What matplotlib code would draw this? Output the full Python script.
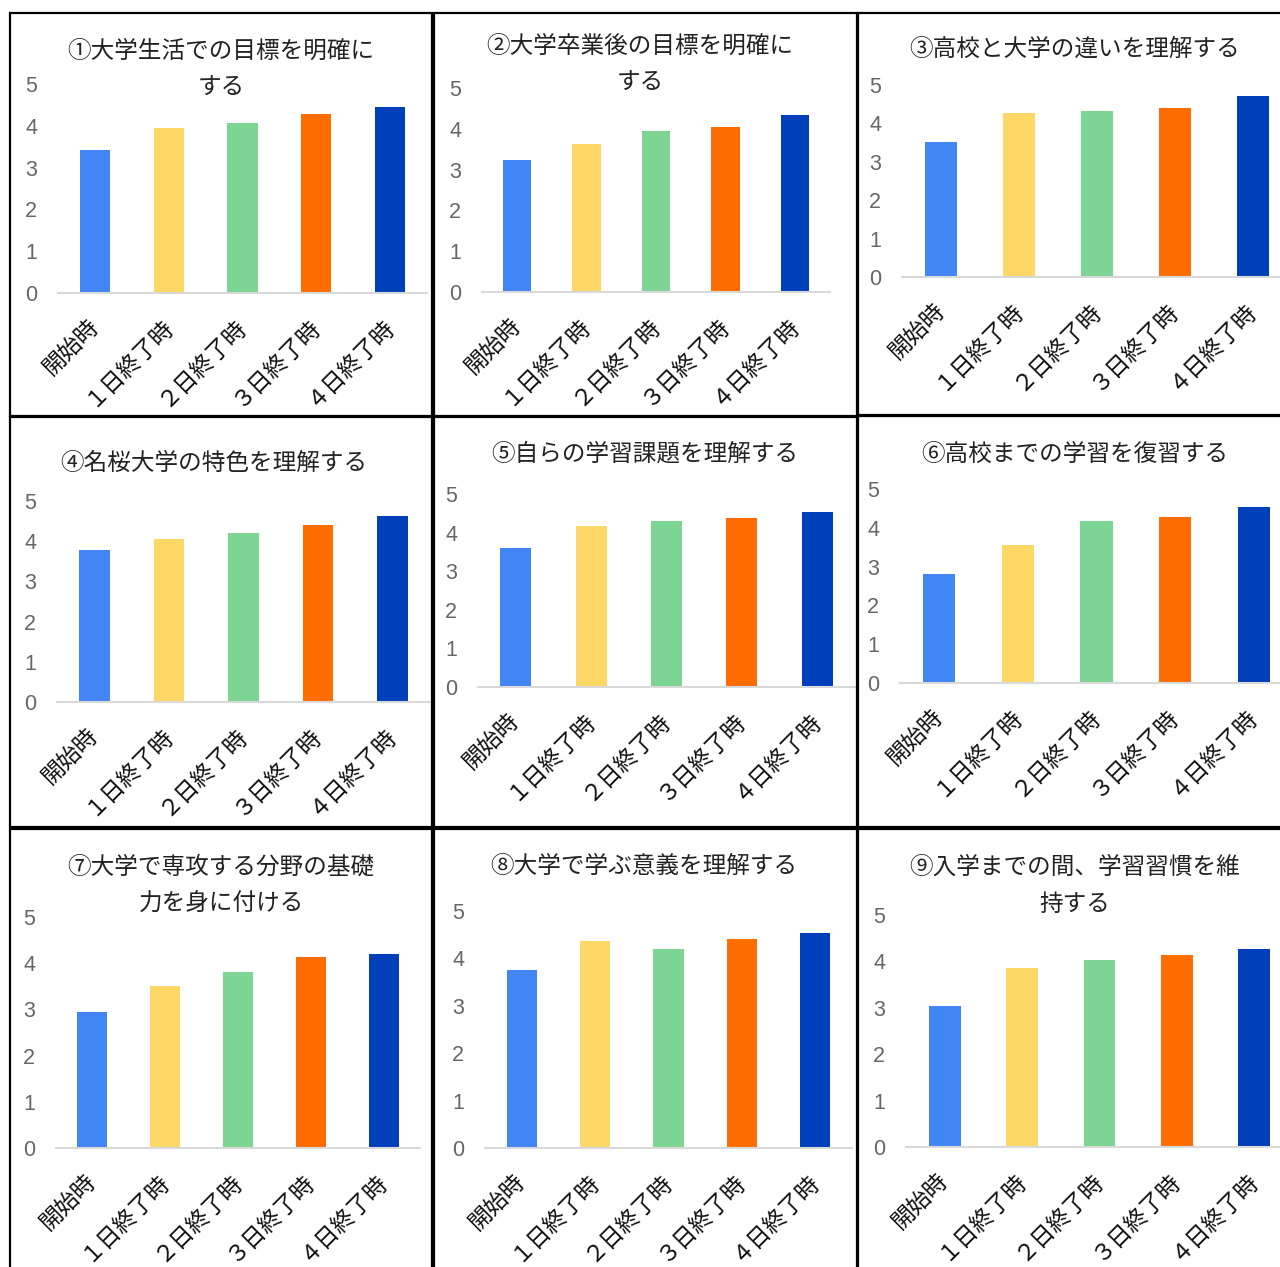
import matplotlib
matplotlib.use('agg')
import matplotlib.pyplot as plt
import matplotlib.transforms as mtransforms
from matplotlib.patches import Rectangle

plt.rcParams['font.family'] = ['Noto Sans CJK JP', 'DejaVu Sans']

# categories and values
categories = ['開始時', '１日終了時', '２日終了時', '３日終了時', '４日終了時']
bar_colors = ['#4285f4', '#fdd866', '#7dd593', '#ff6d01', '#003fba']
yticks = [0, 1, 2, 3, 4, 5]

titles = [
    '①大学生活での目標を明確に\nする',
    '②大学卒業後の目標を明確に\nする',
    '③高校と大学の違いを理解する',
    '④名桜大学の特色を理解する',
    '⑤自らの学習課題を理解する',
    '⑥高校までの学習を復習する',
    '⑦大学で専攻する分野の基礎\n力を身に付ける',
    '⑧大学で学ぶ意義を理解する',
    '⑨入学までの間、学習習慣を維\n持する',
]

v1 = [3.42, 3.95, 4.07, 4.28, 4.45]
v2 = [3.23, 3.63, 3.95, 4.05, 4.35]
v3 = [3.51, 4.27, 4.32, 4.40, 4.71]
v4 = [3.78, 4.05, 4.20, 4.40, 4.62]
v5 = [3.60, 4.17, 4.30, 4.38, 4.53]
v6 = [2.81, 3.55, 4.17, 4.28, 4.54]
v7 = [2.94, 3.50, 3.81, 4.13, 4.19]
v8 = [3.75, 4.36, 4.19, 4.40, 4.53]
v9 = [3.04, 3.86, 4.03, 4.14, 4.27]
values = [v1, v2, v3, v4, v5, v6, v7, v8, v9]

W, H = 1280, 1267

# panel layout in pixels: border box, plot area (left, right, y of 5, y of 0), title centre
boxes = [(10, 13, 432, 416), (434, 13, 857, 416), (858, 13, 1292, 415),
         (10, 417, 432, 827), (434, 417, 857, 827), (858, 416, 1292, 827),
         (10, 829, 432, 1280), (434, 829, 857, 1280), (858, 829, 1292, 1280)]
areas = [(58, 427, 84, 293), (482, 830, 88, 292), (902, 1292, 85, 277),
         (57, 430, 501, 702), (478, 855, 494, 687), (900, 1293, 489, 683),
         (56, 420, 917, 1148), (485, 852, 911, 1148), (906, 1293, 915, 1147)]
title_pos = [(221, 70), (640, 65), (1075, 49),
             (214, 463), (645, 454), (1075, 454),
             (221, 886), (644, 866), (1075, 886)]

fig = plt.figure(figsize=(W / 100, H / 100), dpi=100)

for i in range(9):
    x0, y0, x1, y1 = boxes[i]
    fig.add_artist(Rectangle((x0 / W, 1 - y1 / H), (x1 - x0) / W, (y1 - y0) / H,
                             transform=fig.transFigure, fill=False,
                             edgecolor='black', linewidth=1.6))

    left, right, top, bottom = areas[i]
    ax = fig.add_axes([left / W, 1 - bottom / H, (right - left) / W, (bottom - top) / H])
    ax.bar(range(5), values[i], width=0.41, color=bar_colors)
    ax.set_xlim(-0.5, 4.5)
    ax.set_ylim(0, 5)
    ax.set_yticks(yticks)
    ax.set_yticklabels([str(t) for t in yticks], family='Liberation Sans',
                       fontsize=15.5, color='#666666')
    ax.set_xticks(range(5))
    ax.set_xticklabels([])
    # rotated category labels, nudged left and down from each tick
    trans = (mtransforms.blended_transform_factory(ax.transData, ax.transAxes)
             + mtransforms.ScaledTranslation(-8 / 100, -21 / 100, fig.dpi_scale_trans))
    for k, cat in enumerate(categories):
        ax.text(k, 0, cat, transform=trans, rotation=45, ha='right', va='top',
                rotation_mode='anchor', fontsize=16.5, color='#111111', clip_on=False)
    ax.tick_params(axis='y', length=0, pad=15)
    ax.tick_params(axis='x', length=0)
    for s in ['top', 'right', 'left']:
        ax.spines[s].set_visible(False)
    ax.spines['bottom'].set_color('#d9d9d9')
    ax.spines['bottom'].set_linewidth(1.5)
    ax.patch.set_alpha(0)

    tx, ty = title_pos[i]
    fig.text(tx / W, 1 - ty / H, titles[i], ha='center', va='center',
             fontsize=17, color='#222222', linespacing=1.8)

fig.savefig('out.png', dpi=100)
